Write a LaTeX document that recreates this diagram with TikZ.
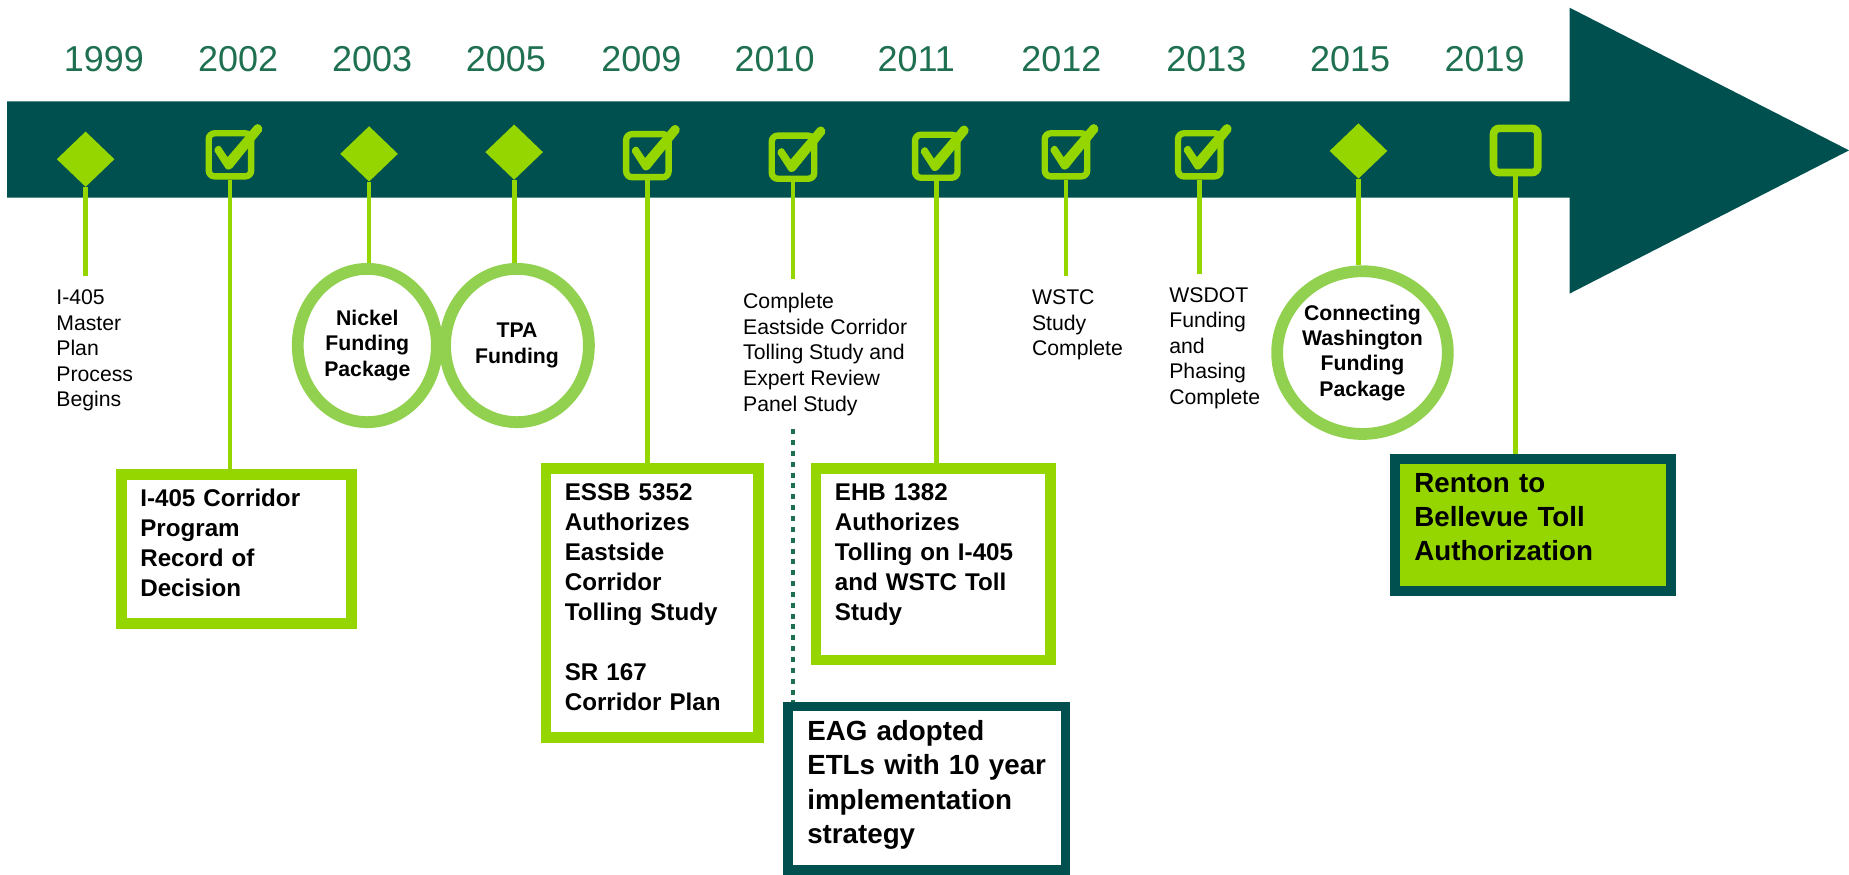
\documentclass[tikz,border=0pt]{standalone}
\usepackage{fontspec}
\setmainfont{Liberation Sans}
\usetikzlibrary{shapes.geometric}
\definecolor{tlteal}{RGB}{0,80,80}
\definecolor{tllime}{RGB}{150,214,0}
\definecolor{tlring}{RGB}{146,208,80}
\definecolor{tlyear}{RGB}{30,112,80}
\tikzset{
  tickframe/.style={draw=tllime,line width=5.4pt,rounded corners=5pt,inner sep=0pt,
    minimum width=36pt,minimum height=36.5pt},
  pics/tickbox/.style={code={
      \node[tickframe] (-b) at (0,0) {};
      \fill[tllime] (-13,-3) .. controls (-14,-6) and (-10,-9) .. (-8,-7) -- (-2,2) -- (21,-25)
        .. controls (24,-28) and (29,-24) .. (27,-20) -- (2,11)
        .. controls (0,13) and (-3,13) .. (-4,11) -- cycle;
  }}
}
\begin{document}
\begin{tikzpicture}[x=1pt,y=-1pt,
    yr/.style={font=\fontsize{30.5}{36}\selectfont,text=tlyear,anchor=base},
    gem/.style={diamond,fill=tllime,inner sep=0pt,minimum width=49pt,minimum height=47pt},
    stem/.style={draw=tllime,line width=4pt},
    note/.style={anchor=north west,align=left,inner xsep=0pt,inner ysep=11.5pt,
      font=\fontsize{18}{21.7}\selectfont},
    ring/.style={ellipse,draw=tlring,line width=10pt,fill=white,inner sep=0pt,align=center,
      font=\bfseries\fontsize{18}{21.5}\selectfont},
    card/.style={anchor=north west,draw=tllime,line width=9pt,fill=white,align=left,
      font=\bfseries\fontsize{20.5}{25.4}\selectfont},
    bigcard/.style={card,line width=8pt,draw=tlteal,font=\bfseries\fontsize{23.5}{29}\selectfont},
    dotline/.style={draw=tlyear,line width=4pt,dash pattern=on 4.2pt off 5pt}]
  \useasboundingbox (0,0) rectangle (1568,742);
  %% arrow band
  \fill[tlteal] (6,86) -- (1331,86) -- (1331,6.5) -- (1568,127.5) -- (1331,249)
    -- (1331,167.5) -- (6,167.5) -- cycle;
  %% years
  \foreach \yy/\xx in {1999/88,2002/202,2003/315.5,2005/429,2009/544,2010/657,
      2011/777,2012/900,2013/1023,2015/1145,2019/1259}
    \node[yr] (y\yy) at (\xx,60.8) {\yy};
  %% markers on the band
  \node[gem] (m1999) at (72.6,135) {};
  \pic (c2002) at (195,131.3) {tickbox};
  \node[gem] (m2003) at (313,130.5) {};
  \node[gem] (m2005) at (436,129) {};
  \pic (c2009) at (549,132) {tickbox};
  \pic (c2010) at (672.5,133.3) {tickbox};
  \pic (c2011) at (794,132.5) {tickbox};
  \pic (c2012) at (904,131.3) {tickbox};
  \pic (c2013) at (1017,131.3) {tickbox};
  \node[gem] (m2015) at (1152,128) {};
  \node[tickframe,line width=6.5pt,minimum width=37.5pt,minimum height=37.5pt] (c2019) at (1285.3,127.6) {};
  %% plain notes
  \node[note] (t1999) at (47.6,234) {I-405\\Master\\Plan\\Process\\Begins};
  \node[note] (t2010) at (630,237) {Complete\\Eastside Corridor\\Tolling Study and\\Expert Review\\Panel Study};
  \node[note] (t2012) at (875,234) {WSTC\\Study\\Complete};
  \node[note] (t2013) at (991.4,232) {WSDOT\\Funding\\and\\Phasing\\Complete};
  %% funding rings
  \node[ring,minimum width=118pt,minimum height=130pt] (r2003) at (311.5,293) {Nickel\\Funding\\Package};
  \node[ring,minimum width=122pt,minimum height=130pt] (r2005) at (438.4,293) {TPA\\Funding};
  \node[ring,minimum width=136pt,minimum height=138pt] (r2015) at (1155.4,299) {Connecting\\Washington\\Funding\\Package};
  %% decision boxes
  \node[card,inner xsep=16.2pt,inner ysep=12.5pt,text width=163.1pt,text depth=86.4pt] (b2002) at (98.3,398)
    {I-405 Corridor\\Program\\Record of\\Decision};
  \node[card,inner xsep=15.9pt,inner ysep=12.6pt,text width=148.5pt,text depth=188.2pt] (b2009) at (458.6,393)
    {ESSB 5352\\Authorizes\\Eastside\\Corridor\\Tolling Study\\[25.4pt]SR 167\\Corridor Plan};
  \node[card,inner xsep=16pt,inner ysep=12.6pt,text width=166.8pt,text depth=122.6pt] (b2011) at (687.5,393)
    {EHB 1382\\Authorizes\\Tolling on I-405\\and WSTC Toll\\Study};
  \node[bigcard,inner xsep=16.4pt,inner ysep=12.1pt,text width=202.6pt,text depth=97.6pt] (b2010) at (664.2,595)
    {EAG adopted\\ETLs with 10 year\\implementation\\strategy};
  \node[bigcard,line width=8.5pt,fill=tllime,inner xsep=16.35pt,inner ysep=12.05pt,text width=201pt,text depth=71.6pt] (b2019) at (1178.8,385)
    {Renton to\\Bellevue Toll\\Authorization};
  %% stems
  \draw[stem] (m1999.south) -- (m1999.south |- t1999.north);
  \draw[stem] (c2002-b.south) -- (c2002-b.south |- b2002.north);
  \draw[stem] (m2003.south) -- (m2003.south |- r2003.north);
  \draw[stem] (m2005.south) -- (m2005.south |- r2005.north);
  \draw[stem] (c2009-b.south) -- (c2009-b.south |- b2009.north);
  \draw[stem] (c2010-b.south) -- (c2010-b.south |- t2010.north);
  \draw[stem] (c2011-b.south) -- (c2011-b.south |- b2011.north);
  \draw[stem] (c2012-b.south) -- (c2012-b.south |- t2012.north);
  \draw[stem] (c2013-b.south) -- (c2013-b.south |- t2013.north);
  \draw[stem] (m2015.south) -- (m2015.south |- r2015.north);
  \draw[stem] (c2019.south) -- (c2019.south |- b2019.north);
  %% dotted link down to the EAG box
  \draw[dotline] (c2010-b.south |- t2010.south) -- (c2010-b.south |- b2010.north);
\end{tikzpicture}
\end{document}
